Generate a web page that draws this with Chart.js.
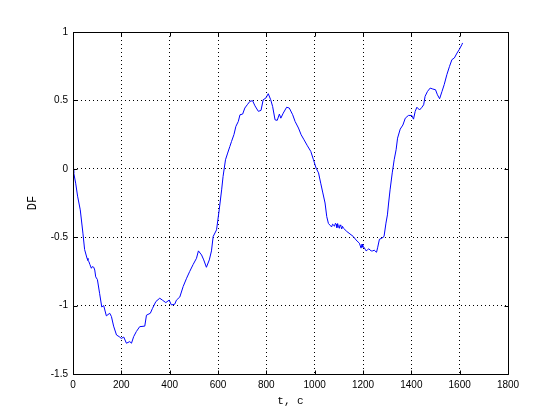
<!DOCTYPE html>
<html>
<head>
<meta charset="utf-8">
<script src="https://cdn.jsdelivr.net/npm/chart.js@4/dist/chart.umd.min.js"></script>
<style>
html,body{margin:0;padding:0;background:#fff;}
#wrap{width:560px;height:420px;position:relative;}
</style>
</head>
<body>
<div id="wrap"><canvas id="c" width="560" height="420"></canvas></div>
<script>
const tValues = [0,3,11,19,30,41,48,58,62,66,70,76,80,86,90,94,101,110,119,127,138,152,159,168,180,191,200,210,221,235,242,251,262,276,297,304,320,329,343,359,370,384,398,407,421,428,442,456,470,483,497,511,519,532,541,552,564,573,580,594,605,615,621,631,640,649,656,666,674,684,691,702,711,721,732,743,753,767,778,787,798,808,818,826,836,845,854,860,870,884,895,909,919,933,944,956,970,984,995,1006,1016,1025,1033,1043,1050,1057,1066,1070,1074,1078,1082,1086,1089,1092,1095,1098,1102,1105,1108,1112,1115,1119,1133,1146,1160,1171,1185,1192,1196,1199,1202,1209,1213,1218,1224,1229,1234,1240,1247,1253,1256,1261,1268,1278,1287,1295,1301,1306,1312,1321,1329,1337,1343,1354,1365,1375,1388,1402,1409,1416,1423,1434,1444,1451,1457,1467,1478,1489,1500,1508,1517,1527,1536,1547,1558,1568,1578,1589,1598,1609,1612];
const dfValues = [0,-0.03,-0.105,-0.2,-0.30,-0.47,-0.59,-0.654,-0.67,-0.68,-0.70,-0.727,-0.715,-0.72,-0.74,-0.79,-0.81,-0.91,-1.01,-1.0,-1.075,-1.056,-1.08,-1.15,-1.215,-1.227,-1.24,-1.23,-1.275,-1.263,-1.275,-1.227,-1.19,-1.154,-1.15,-1.07,-1.056,-1.02,-0.97,-0.946,-0.96,-0.978,-0.96,-0.995,-0.99,-0.96,-0.937,-0.86,-0.80,-0.75,-0.70,-0.654,-0.60,-0.63,-0.666,-0.72,-0.666,-0.60,-0.495,-0.446,-0.30,-0.154,-0.056,0.066,0.115,0.163,0.2,0.25,0.31,0.346,0.395,0.4,0.444,0.468,0.493,0.498,0.46,0.42,0.427,0.505,0.517,0.549,0.505,0.456,0.358,0.354,0.40,0.37,0.407,0.45,0.444,0.395,0.346,0.298,0.249,0.212,0.168,0.127,0.066,0.005,-0.03,-0.105,-0.17,-0.25,-0.35,-0.40,-0.417,-0.425,-0.405,-0.41,-0.42,-0.398,-0.405,-0.43,-0.40,-0.42,-0.435,-0.41,-0.417,-0.44,-0.42,-0.434,-0.458,-0.476,-0.495,-0.52,-0.544,-0.58,-0.55,-0.573,-0.57,-0.588,-0.60,-0.593,-0.585,-0.593,-0.60,-0.60,-0.595,-0.607,-0.61,-0.573,-0.515,-0.507,-0.495,-0.397,-0.337,-0.25,-0.154,-0.03,0.066,0.139,0.224,0.29,0.32,0.37,0.39,0.39,0.363,0.42,0.45,0.43,0.45,0.468,0.53,0.566,0.59,0.583,0.578,0.541,0.512,0.566,0.615,0.688,0.749,0.798,0.81,0.846,0.871,0.907,0.92];
const xTicks = [0,200,400,600,800,1000,1200,1400,1600,1800];
const yTicks = [-1.5,-1,-0.5,0,0.5,1];
const xLabel = 't, c';
const yLabel = 'DF';

const points = tValues.map((t, i) => ({x: t, y: dfValues[i]}));

const boxPlugin = {
  id: 'box',
  afterDraw(chart) {
    const {ctx, chartArea: a, scales} = chart;
    ctx.save();
    ctx.strokeStyle = '#000';
    ctx.lineWidth = 1;
    ctx.setLineDash([]);
    ctx.beginPath();
    const L = Math.round(a.left) + 0.5, R = Math.round(a.right) + 0.5;
    const T = Math.round(a.top) + 0.5, B = Math.round(a.bottom) + 0.5;
    ctx.rect(L, T, R - L, B - T);
    const tl = 4;
    xTicks.forEach(v => {
      const x = Math.round(scales.x.getPixelForValue(v)) + 0.5;
      ctx.moveTo(x, B); ctx.lineTo(x, B - tl);
      ctx.moveTo(x, T); ctx.lineTo(x, T + tl);
    });
    yTicks.forEach(v => {
      const y = Math.round(scales.y.getPixelForValue(v)) + 0.5;
      ctx.moveTo(L, y); ctx.lineTo(L + tl, y);
      ctx.moveTo(R, y); ctx.lineTo(R - tl, y);
    });
    ctx.stroke();
    ctx.restore();
  }
};

new Chart(document.getElementById('c'), {
  type: 'line',
  data: {
    datasets: [{
      data: points,
      borderColor: '#0000ff',
      borderWidth: 1,
      pointRadius: 0,
      tension: 0,
      fill: false
    }]
  },
  options: {
    responsive: false,
    animation: false,
    events: [],
    layout: {padding: {top: 32, right: 52, bottom: 0, left: 0}},
    plugins: {legend: {display: false}, tooltip: {enabled: false}},
    scales: {
      x: {
        type: 'linear',
        min: 0, max: 1800,
        afterBuildTicks: s => { s.ticks = xTicks.map(v => ({value: v})); },
        afterFit: s => { s.height = 46; },
        grid: {color: '#000', lineWidth: 1, drawTicks: false},
        border: {display: false, dash: [1,3]},
        ticks: {color: '#000', padding: 5, maxRotation: 0, font: {family: 'Liberation Sans', size: 10}, callback: v => String(v)},
        title: {display: true, text: xLabel, color: '#000', font: {family: 'Liberation Mono', size: 11}, padding: {top: 0, bottom: 12}}
      },
      y: {
        type: 'linear',
        min: -1.5, max: 1,
        afterBuildTicks: s => { s.ticks = yTicks.map(v => ({value: v})); },
        afterFit: s => { s.width = 73; },
        grid: {color: '#000', lineWidth: 1, drawTicks: false},
        border: {display: false, dash: [1,3]},
        ticks: {color: '#000', padding: 5, font: {family: 'Liberation Sans', size: 10}, callback: v => String(v)},
        title: {display: true, text: yLabel, color: '#000', font: {family: 'Liberation Mono', size: 12}, padding: {top: 26, bottom: 0}}
      }
    }
  },
  plugins: [boxPlugin]
});
</script>
</body>
</html>
